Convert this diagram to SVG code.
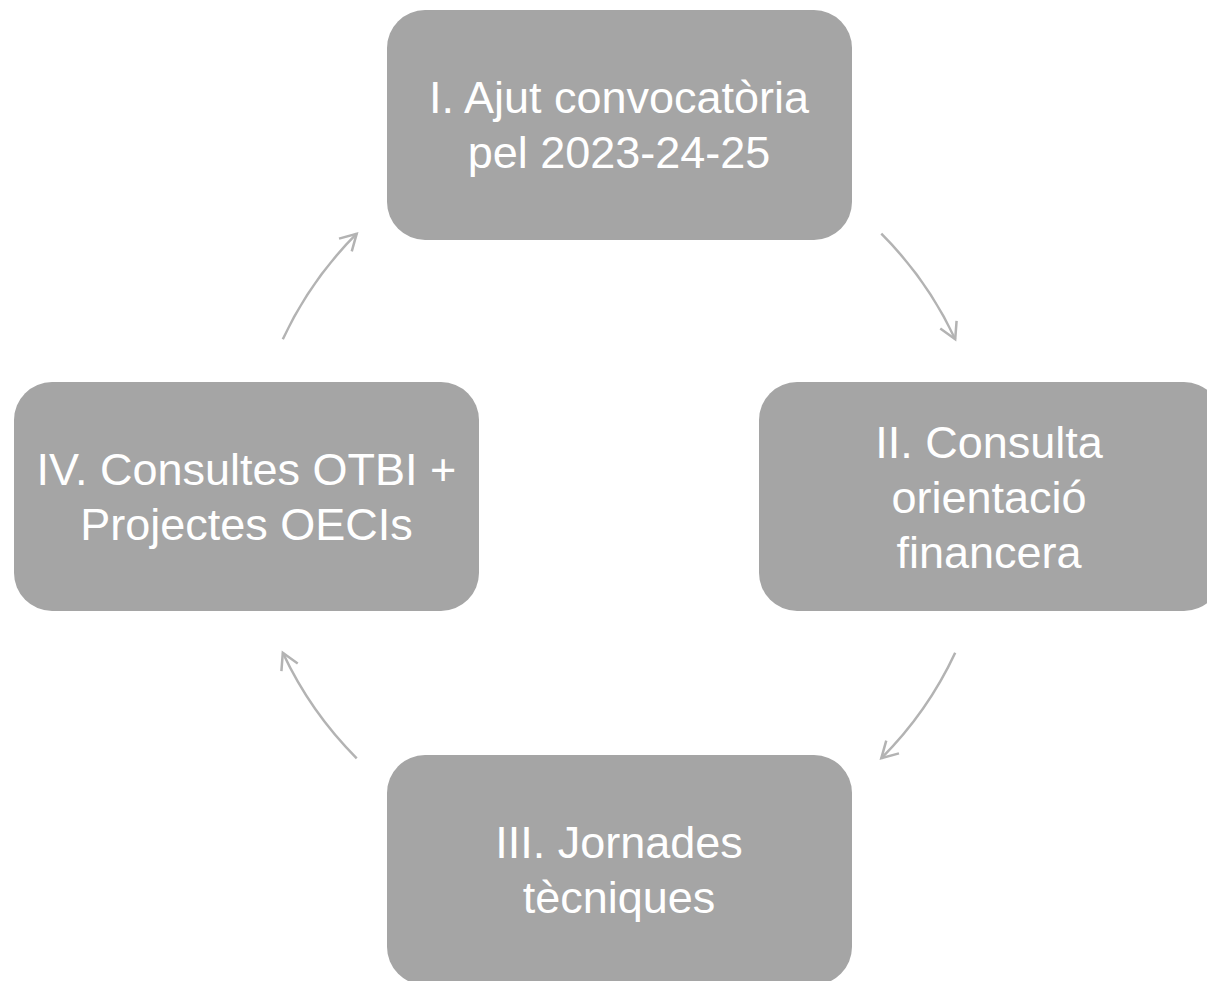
<svg xmlns="http://www.w3.org/2000/svg" width="1207" height="981" viewBox="0 0 1207 981">
<style>
.box{fill:#a5a5a5;}
.lbl{font-family:"Liberation Sans",Arial,sans-serif;font-size:45px;fill:#ffffff;text-anchor:middle;}
.conn{fill:none;stroke:#b3b3b3;stroke-width:2.5;marker-end:url(#arr);}
</style>
<defs>
<marker id="arr" markerUnits="userSpaceOnUse" markerWidth="22" markerHeight="22" viewBox="0 0 22 22" refX="19" refY="11" orient="auto">
<path d="M3,2 L19,11 L3,20" fill="none" stroke="#b3b3b3" stroke-width="2.5" stroke-linejoin="miter"/>
</marker>
</defs>
<rect width="1207" height="981" fill="#ffffff"/>
<g id="connectors">
<path class="conn" d="M881.3,233.7 A371,371 0 0 1 955.2,339.2"/>
<path class="conn" d="M955.2,652.8 A371,371 0 0 1 881.3,758.3"/>
<path class="conn" d="M356.7,758.3 A371,371 0 0 1 282.8,652.8"/>
<path class="conn" d="M282.8,339.2 A371,371 0 0 1 356.7,233.7"/>
</g>
<g id="node1">
<rect class="box" x="387" y="10" width="465" height="230" rx="38" ry="38"/>
<text class="lbl" x="619" y="113">I. Ajut convocatòria</text>
<text class="lbl" x="619" y="168">pel 2023-24-25</text>
</g>
<g id="node2">
<rect class="box" x="759" y="382" width="463" height="229" rx="38" ry="38"/>
<text class="lbl" x="989" y="458">II. Consulta</text>
<text class="lbl" x="989" y="513">orientació</text>
<text class="lbl" x="989" y="568">financera</text>
</g>
<g id="node3">
<rect class="box" x="387" y="755" width="465" height="230" rx="38" ry="38"/>
<text class="lbl" x="619" y="858">III. Jornades</text>
<text class="lbl" x="619" y="913">tècniques</text>
</g>
<g id="node4">
<rect class="box" x="14" y="382" width="465" height="229" rx="38" ry="38"/>
<text class="lbl" x="246.5" y="485">IV. Consultes OTBI +</text>
<text class="lbl" x="246.5" y="540">Projectes OECIs</text>
</g>
</svg>
